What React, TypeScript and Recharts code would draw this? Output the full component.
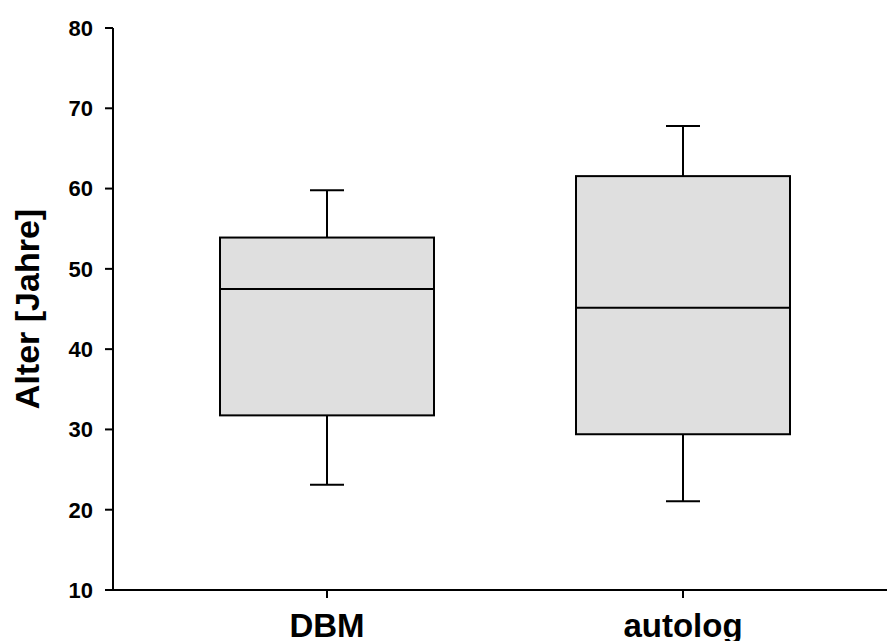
import { ComposedChart, Bar, XAxis, YAxis } from 'recharts'

const categories = ['DBM', 'autolog']
const whiskerLow = [23.1, 21.05]
const q1 = [31.75, 29.4]
const median = [47.5, 45.15]
const q3 = [53.9, 61.55]
const whiskerHigh = [59.8, 67.8]
const yTicks = [10, 20, 30, 40, 50, 60, 70, 80]

const data = categories.map((name, i) => ({
  name,
  box: [q1[i], q3[i]],
  low: whiskerLow[i],
  q1: q1[i],
  median: median[i],
  q3: q3[i],
  high: whiskerHigh[i],
}))

const FONT = '"Liberation Sans", Arial, sans-serif'

// eslint-disable-next-line @typescript-eslint/no-explicit-any
function BoxShape(props: any) {
  const { x, y, width, height, payload } = props
  if (height == null || !payload) return null
  const unit = height / (payload.q3 - payload.q1)
  const cx = x + width / 2
  const top = y
  const bottom = y + height
  const medY = top + (payload.q3 - payload.median) * unit
  const hiY = top - (payload.high - payload.q3) * unit
  const loY = bottom + (payload.q1 - payload.low) * unit
  const cap = 17
  return (
    <g stroke="#000" strokeWidth={2}>
      <line x1={cx} x2={cx} y1={hiY} y2={top} />
      <line x1={cx - cap} x2={cx + cap} y1={hiY} y2={hiY} />
      <line x1={cx} x2={cx} y1={bottom} y2={loY} />
      <line x1={cx - cap} x2={cx + cap} y1={loY} y2={loY} />
      <rect x={x} y={top} width={width} height={height} fill="#dfdfdf" />
      <line x1={x} x2={x + width} y1={medY} y2={medY} />
    </g>
  )
}

export default function App() {
  return (
    <div style={{ position: 'absolute', left: 0, top: 0, background: '#fff' }}>
      <ComposedChart
        width={887}
        height={641}
        data={data}
        margin={{ top: 28, right: 0, bottom: 0, left: 0 }}
      >
        <XAxis
          dataKey="name"
          height={51}
          padding={{ left: 36, right: 26 }}
          axisLine={{ stroke: '#000', strokeWidth: 2 }}
          tickLine={{ stroke: '#000', strokeWidth: 2 }}
          tickSize={8}
          tickMargin={16}
          tick={{ fontSize: 33, fontWeight: 'bold', fill: '#000', fontFamily: FONT }}
        />
        <YAxis
          type="number"
          domain={[10, 80]}
          ticks={yTicks}
          width={113}
          axisLine={{ stroke: '#000', strokeWidth: 2 }}
          tickLine={{ stroke: '#000', strokeWidth: 2 }}
          tickSize={8}
          tickMargin={12}
          tick={{ fontSize: 22, fontWeight: 'bold', fill: '#000', fontFamily: FONT }}
          label={{
            value: 'Alter [Jahre]',
            angle: -90,
            position: 'insideLeft',
            dx: 22,
            style: { fontSize: 34, fontWeight: 'bold', fill: '#000', fontFamily: FONT, textAnchor: 'middle' },
          }}
        />
        <Bar dataKey="box" barSize={214} shape={<BoxShape />} isAnimationActive={false} />
      </ComposedChart>
    </div>
  )
}
